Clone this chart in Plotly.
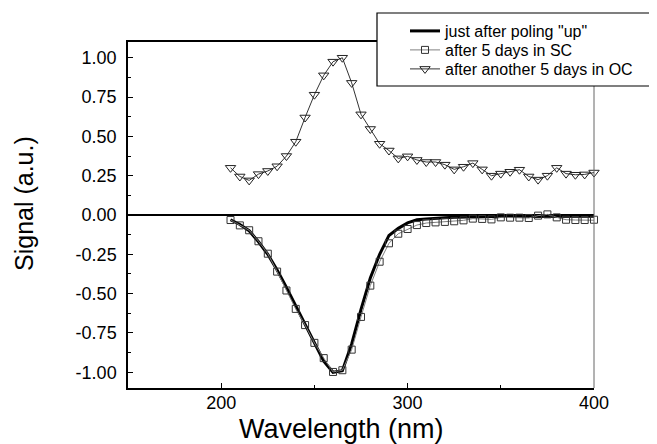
import plotly.graph_objects as go

wavelength = [205, 210, 215, 220, 225, 230, 235, 240, 245, 250, 255, 260, 265, 270, 275, 280,
              285, 290, 295, 300, 305, 310, 315, 320, 325, 330, 335, 340, 345, 350, 355, 360,
              365, 370, 375, 380, 385, 390, 395, 400, 405]

poling_up = [-0.03, -0.06, -0.10, -0.17, -0.25, -0.35, -0.46, -0.58, -0.70, -0.82, -0.93, -1.00,
             -0.99, -0.82, -0.60, -0.40, -0.25, -0.13, -0.085, -0.05, -0.03, -0.025, -0.02,
             -0.018, -0.015, -0.013, -0.012, -0.011, -0.01, -0.01, -0.01, -0.009, -0.009,
             -0.008, -0.008, -0.008, -0.008, -0.008, -0.008, -0.008]

after_sc = [-0.032, -0.066, -0.097, -0.167, -0.246, -0.36, -0.48, -0.597, -0.70, -0.813, -0.91,
            -0.998, -0.987, -0.856, -0.648, -0.449, -0.297, -0.18, -0.119, -0.089, -0.064,
            -0.051, -0.047, -0.044, -0.04, -0.034, -0.023, -0.025, -0.028, -0.015, -0.017,
            -0.017, -0.019, -0.004, 0.004, -0.015, -0.03, -0.032, -0.032, -0.03, -0.034]

after_oc = [0.30, 0.245, 0.22, 0.26, 0.28, 0.31, 0.375, 0.466, 0.62, 0.765, 0.888, 0.975, 1.00,
            0.84, 0.64, 0.547, 0.453, 0.41, 0.36, 0.373, 0.35, 0.337, 0.337, 0.32, 0.29, 0.307,
            0.33, 0.29, 0.25, 0.263, 0.275, 0.288, 0.245, 0.225, 0.25, 0.30, 0.263, 0.256,
            0.258, 0.27, 0.29]

x_ticks = [200, 300, 400]
x_tick_labels = ["200", "300", "400"]
y_ticks = [1.0, 0.75, 0.5, 0.25, 0.0, -0.25, -0.5, -0.75, -1.0]
y_tick_labels = ["1.00", "0.75", "0.50", "0.25", "0.00", "-0.25", "-0.50", "-0.75", "-1.00"]

fig = go.Figure()
fig.add_trace(go.Scatter(
    x=wavelength[:len(poling_up)], y=poling_up, mode="lines",
    name='just after poling "up"', legend="legend",
    line=dict(color="black", width=3)))
fig.add_trace(go.Scatter(
    x=wavelength, y=after_sc, mode="lines+markers",
    name="after 5 days in SC", cliponaxis=False, legend="legend2",
    line=dict(color="#808080", width=1),
    marker=dict(symbol="square-open", size=7, color="#333333", line=dict(width=1))))
fig.add_trace(go.Scatter(
    x=wavelength, y=after_oc, mode="lines+markers",
    name="after another 5 days in OC", cliponaxis=False, legend="legend3",
    line=dict(color="#333333", width=1),
    marker=dict(symbol="triangle-down-open", size=9, color="#222222", line=dict(width=1))))

# the page has an 8px body margin; positions below are in page pixels
OFF = 8
W, H = 657 - OFF, 444 - OFF
L, T = 128 - OFF, 42 - OFF
pw, ph = 466, 346
R, B = W - L - pw, H - T - ph

def px_x(p):
    return (p - OFF - L) / pw

def px_y(p):
    return (T + ph - (p - OFF)) / ph

font = "Liberation Sans, Arial, Helvetica, sans-serif"

def leg(ypage):
    return dict(x=px_x(405), y=px_y(ypage), xanchor="left", yanchor="middle",
                bgcolor="rgba(0,0,0,0)", borderwidth=0,
                font=dict(size=16, family=font, color="black"))

fig.update_layout(
    template="none",
    width=W, height=H,
    margin=dict(l=L, r=R, t=T, b=B, autoexpand=False),
    paper_bgcolor="white", plot_bgcolor="white",
    font=dict(family=font, color="black"),
    showlegend=True,
    legend=leg(31), legend2=leg(50), legend3=leg(69),
    xaxis=dict(range=[150, 400], showgrid=False, zeroline=False, automargin=False,
               showline=True, linecolor="black", linewidth=1.5, mirror=True,
               ticks="inside", ticklen=5, tickwidth=1, tickcolor="black",
               tickvals=x_ticks, ticktext=x_tick_labels,
               tickfont=dict(size=18), ticklabelstandoff=-2,
               minor=dict(tickvals=[150, 250, 350], ticks="inside", ticklen=3, tickcolor="black")),
    yaxis=dict(range=[-1.1, 1.1], showgrid=False, automargin=False,
               zeroline=True, zerolinecolor="black", zerolinewidth=1.5,
               showline=True, linecolor="black", linewidth=1.5, mirror=False,
               ticks="inside", ticklen=5, tickwidth=1, tickcolor="black",
               tickvals=y_ticks, ticktext=y_tick_labels,
               tickfont=dict(size=18), ticklabelstandoff=6,
               minor=dict(dtick=0.125, ticks="inside", ticklen=3, tickcolor="black")),
    shapes=[
        dict(type="line", xref="paper", yref="paper", x0=1, x1=1, y0=0, y1=1,
             line=dict(color="#666666", width=1), layer="above"),
        dict(type="rect", xref="paper", yref="paper",
             x0=px_x(377), x1=px_x(655), y0=px_y(86), y1=px_y(13),
             fillcolor="white", line=dict(color="black", width=1.2), layer="above"),
    ],
    annotations=[
        dict(text="Wavelength (nm)", xref="paper", yref="paper", x=px_x(341), y=px_y(429),
             xanchor="center", yanchor="middle", showarrow=False, font=dict(size=27)),
        dict(text="Signal (a.u.)", xref="paper", yref="paper", x=px_x(24), y=px_y(204),
             xanchor="center", yanchor="middle", textangle=-90, showarrow=False,
             font=dict(size=25)),
    ],
)

fig.write_html("out.html")
